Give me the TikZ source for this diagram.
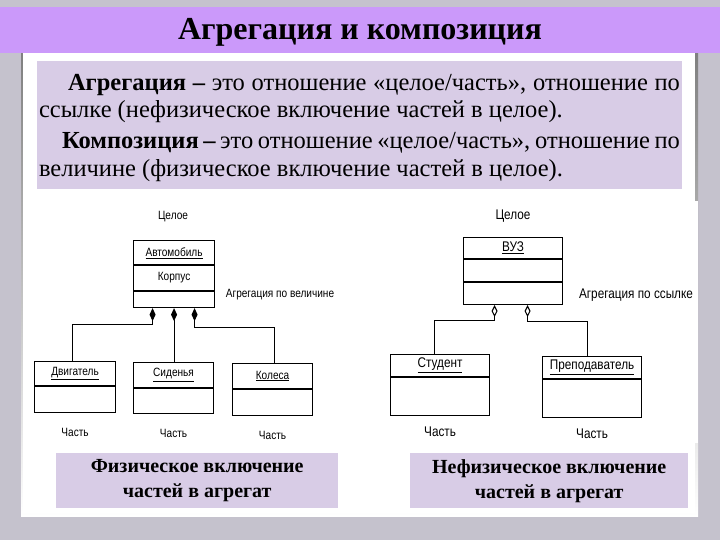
\documentclass[tikz,border=0pt]{standalone}
\usepackage{fontspec}
\setmainfont{Liberation Serif}
\newfontfamily\umlfont[FakeStretch=0.84]{Liberation Sans}
\usetikzlibrary{positioning}
\usetikzlibrary{arrows.meta}
\usetikzlibrary{calc}
\definecolor{bggray}{RGB}{197,194,205}
\definecolor{bandpurple}{RGB}{203,153,250}
\definecolor{lavender}{RGB}{216,204,230}
\definecolor{shade}{RGB}{128,126,136}
\tikzset{band/.style={fill=bandpurple, minimum width=720, minimum height=46, inner sep=0pt}}
\tikzset{lilac/.style={fill=lavender, inner sep=0pt, anchor=north west}}
\tikzset{cls/.style={draw, line width=1.1pt, inner sep=0pt, anchor=north west}}
\tikzset{lbl/.style={font=\umlfont\fontsize{12}{14}\selectfont, inner sep=1pt}}
\tikzset{lblr/.style={font=\umlfont\fontsize{14}{16}\selectfont, inner sep=1pt}}
\tikzset{compo/.style={{Diamond[length=13pt,width=6pt]}-, line width=1.1pt}}
\tikzset{aggr/.style={{Diamond[open,length=12pt,width=6pt]}-, line width=1.1pt}}

\begin{document}
\begin{tikzpicture}[x=1pt, y=-1pt]
        \useasboundingbox (0,0) rectangle (720,540);
        \fill[bggray] (0,0) rectangle (720,540);

        % sheet
        \fill[shade] (21,53) rectangle (698,516);
        \fill[white] (23,53) rectangle (695,513);
        \fill[white] (386,201) rectangle (698,443);

        \node[band] (band) at (360,30) {};
        \node[font=\bfseries\fontsize{32}{34}\selectfont, inner sep=0pt] (title) at (360,32.5) {Агрегация и композиция};

        \fill[lavender] (37,61) rectangle (682,189);
        \node[text width=641, align=justify, inner sep=0pt] (defs) at (359.5,128)
        {\fontsize{24.5}{27.5}\selectfont\parindent=0pt\parskip=3.5pt
         \hspace*{29pt}\textbf{Агрегация –} это отношение «целое/часть», отношение по\linebreak
         ссылке (нефизическое включение частей в целое).\par
         \hspace*{23pt}\textbf{Композиция –} это отношение «целое/часть», отношение по\linebreak
         величине (физическое включение частей в целое).\par};

        % left: composition
        \node[lbl] (whole1) at (173,217) {Целое};
        \node[cls, minimum width=81, minimum height=67] (avto) at (133,240) {};
        \draw[line width=1.1pt] ($(avto.north west)+(0,25)$) -- ($(avto.north east)+(0,25)$);
        \draw[line width=1.1pt] ($(avto.north west)+(0,51)$) -- ($(avto.north east)+(0,51)$);
        \node[lbl] (avto-h) at ($(avto.north)+(0,13)$) {\underline{Автомобиль}};
        \node[lbl] (korpus) at ($(avto.north)+(0,38)$) {Корпус};
        \node[lbl] (velich) at (280,295) {Агрегация по величине};

        \node[cls, minimum width=81, minimum height=51] (dvig) at (34,361) {};
        \node[cls, minimum width=80, minimum height=51] (siden) at (133,362) {};
        \node[cls, minimum width=80, minimum height=52] (koles) at (232,363) {};
        \draw[line width=1.1pt] ($(dvig.north west)+(0,25)$) -- ($(dvig.north east)+(0,25)$);
        \draw[line width=1.1pt] ($(siden.north west)+(0,26)$) -- ($(siden.north east)+(0,26)$);
        \draw[line width=1.1pt] ($(koles.north west)+(0,26)$) -- ($(koles.north east)+(0,26)$);
        \node[lbl] (dvig-h) at ($(dvig.north)+(0,12.5)$) {\underline{Двигатель}};
        \node[lbl] (siden-h) at ($(siden.north)+(0,13)$) {\underline{Сиденья}};
        \node[lbl] (koles-h) at ($(koles.north)+(0,13)$) {\underline{Колеса}};

        \node[lbl, below=14pt of dvig.south] (part1) {Часть};
        \node[lbl, below=14pt of siden.south] (part2) {Часть};
        \node[lbl, below=14pt of koles.south] (part3) {Часть};

        \draw[compo] ([xshift=-21.5pt]avto.south) -- ++(0,16) -| ([xshift=-2.5pt]dvig.north);
        \draw[compo] (avto.south) -- (avto.south |- siden.north);
        \draw[compo] ([xshift=20.5pt]avto.south) -- ++(0,19) -| ([xshift=2pt]koles.north);

        % right: aggregation
        \node[lblr] (whole2) at (513,216) {Целое};
        \node[cls, minimum width=99, minimum height=67] (vuz) at (463,237) {};
        \draw[line width=1.1pt] ($(vuz.north west)+(0,22)$) -- ($(vuz.north east)+(0,22)$);
        \draw[line width=1.1pt] ($(vuz.north west)+(0,45)$) -- ($(vuz.north east)+(0,45)$);
        \node[lblr] (vuz-h) at ($(vuz.north)+(0,11)$) {\underline{ВУЗ}};
        \node[lblr] (ssylk) at (636,295) {Агрегация по ссылке};

        \node[cls, minimum width=99, minimum height=61] (stud) at (390,354) {};
        \node[cls, minimum width=99, minimum height=61] (prep) at (542,356) {};
        \draw[line width=1.1pt] ($(stud.north west)+(0,23)$) -- ($(stud.north east)+(0,23)$);
        \draw[line width=1.1pt] ($(prep.north west)+(0,23)$) -- ($(prep.north east)+(0,23)$);
        \node[lblr] (stud-h) at ($(stud.north)+(0,11.5)$) {\underline{Студент}};
        \node[lblr] (prep-h) at ($(prep.north)+(0,11.5)$) {\underline{Преподаватель}};

        \node[lblr, below=10pt of stud.south] (part4) {Часть};
        \node[lblr, below=10pt of prep.south] (part5) {Часть};

        \draw[aggr] ([xshift=-18.5pt]vuz.south) -- ++(0,15) -| ([xshift=-5.5pt]stud.north);
        \draw[aggr] ([xshift=14.5pt]vuz.south) -- ++(0,16) -| ([xshift=-4.5pt]prep.north);

        % captions
        \node[lilac, minimum width=282, minimum height=55, align=center,
              font=\bfseries\fontsize{20}{25}\selectfont] (phys) at (56,453)
              {Физическое включение\\частей в агрегат};
        \node[lilac, minimum width=278, minimum height=55, align=center,
              font=\bfseries\fontsize{20}{25}\selectfont] (nonphys) at (410,453)
              {Нефизическое включение\\частей в агрегат};
\end{tikzpicture}
\end{document}
